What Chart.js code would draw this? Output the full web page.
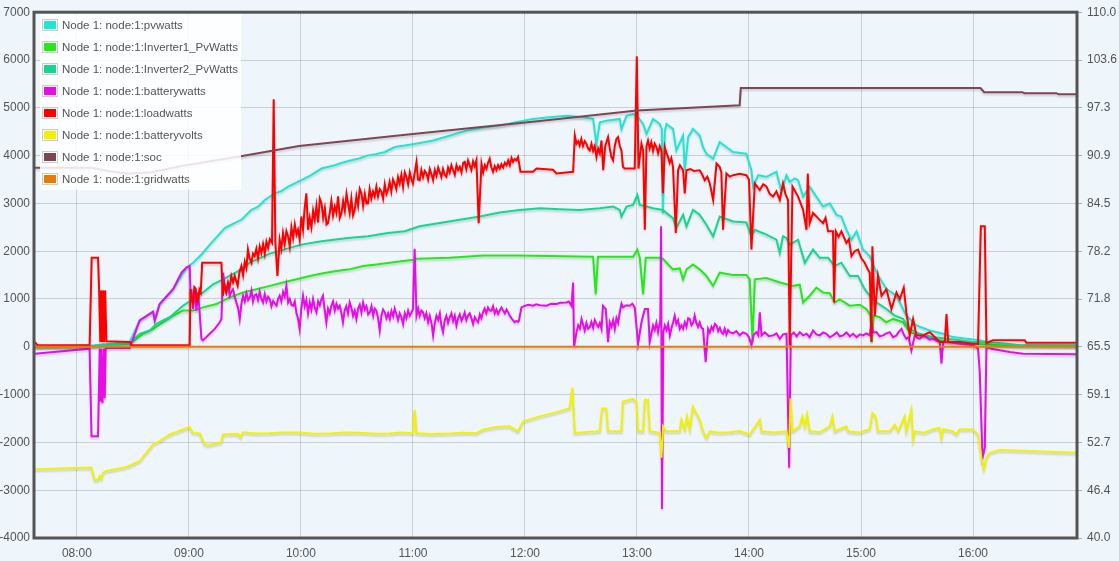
<!DOCTYPE html>
<html>
<head>
<meta charset="utf-8">
<script src="https://cdn.jsdelivr.net/npm/chart.js@4.4.1/dist/chart.umd.min.js"></script>
<style>
html,body{margin:0;padding:0;background:#eef6fc;}
#wrap{position:relative;width:1119px;height:561px;overflow:hidden;}
#legend{position:absolute;left:40px;top:14px;width:201px;height:176px;background:rgba(255,255,255,0.85);font:11.5px "Liberation Sans",Arial,sans-serif;color:#545454;}
.row{position:absolute;left:2px;height:22px;white-space:nowrap;}
.box{position:absolute;left:0;top:0;width:12px;height:8px;border:1px solid #ccc;padding:1px;background:#fff;}
.box div{width:12px;height:8px;}
.txt{position:absolute;left:20px;top:-1px;line-height:14px;}
</style>
</head>
<body>
<div id="wrap">
<canvas id="c" width="1119" height="561"></canvas>
<div id="legend"></div>
</div>
<script>
// Time in minutes after midnight, value
const seriesLabels = ['Node 1: node:1:pvwatts','Node 1: node:1:Inverter1_PvWatts','Node 1: node:1:Inverter2_PvWatts','Node 1: node:1:batterywatts','Node 1: node:1:loadwatts','Node 1: node:1:batteryvolts','Node 1: node:1:soc','Node 1: node:1:gridwatts'];
const seriesColors = ['#1ee6d3','#22ea14','#10d88c','#e80ce8','#ff0000','#f2f200','#7e4650','#e87c00'];

const leftTicks = [-4000,-3000,-2000,-1000,0,1000,2000,3000,4000,5000,6000,7000];
const rightTicks = [40.0,46.4,52.7,59.1,65.5,71.8,78.2,84.5,90.9,97.3,103.6,110.0];
const hourTicks = [480,540,600,660,720,780,840,900,960];

const pvwatts = [[457.4,10],[489.5,30],[508.3,100],[513.6,550],[520.8,736],[521.7,556],[524.3,894],[531.5,1205],[538.6,1655],[542.2,1759],[546.7,1931],[552.0,2174],[559.2,2485],[563.0,2560],[568.1,2657],[573.5,2864],[577.0,2930],[580.6,3072],[586.0,3211],[589.5,3260],[593.1,3350],[600.2,3486],[605.0,3580],[611.0,3729],[618.1,3797],[622.0,3850],[627.0,3901],[631.0,3940],[635.9,4005],[640.0,4030],[644.9,4075],[650.2,4179],[655.6,4212],[663.0,4260],[670.8,4316],[680.0,4420],[688.6,4523],[697.0,4580],[706.5,4627],[715.0,4700],[724.3,4766],[733.0,4800],[742.2,4834],[750.0,4810],[756.5,4766],[758.3,4248],[760.1,4698],[763.6,4731],[770.8,4766],[771.7,4559],[774.4,4834],[777.9,4870],[780.6,4801],[783.3,4662],[785.1,4455],[788.6,4766],[792.2,4662],[793.3,4559],[793.9,2796],[794.9,4500],[795.8,4662],[799.3,4559],[801.1,4109],[804.7,4420],[805.6,3694],[807.4,4386],[810.0,4559],[813.6,4420],[815.4,4179],[817.2,4040],[820.8,3936],[824.3,4283],[827.9,4179],[831.5,4075],[838.6,4040],[841.3,3694],[842.2,3350],[844.9,3590],[849.4,3557],[854.7,3661],[857.4,3246],[860.1,3590],[861.8,3453],[864.5,3522],[866.3,3486],[869.0,3142],[872.5,3350],[876.1,3142],[879.7,2935],[883.3,3003],[886.9,2760],[889.5,2727],[892.2,2449],[894.9,2243],[897.6,2416],[901.1,2035],[904.7,1898],[908.3,1551],[913.7,1205],[919.0,1068],[924.3,653],[929.7,446],[936.8,342],[944.0,272],[949.3,203],[956.5,170],[963.6,135],[967.4,100],[970.0,40],[1015.7,30]];

const inverter1 = [[457.4,0],[486.8,10],[508.3,64],[515.4,272],[520.8,375],[526.1,514],[531.5,653],[536.8,757],[542.2,757],[547.5,825],[554.7,894],[561.8,1033],[569.0,1137],[576.1,1205],[583.3,1275],[590.4,1344],[597.6,1412],[604.7,1483],[611.8,1537],[619.0,1587],[626.1,1620],[633.3,1690],[640.4,1724],[647.6,1759],[654.7,1794],[660.4,1820],[661.9,1842],[679.7,1862],[697.5,1910],[715.4,1910],[733.3,1900],[756.5,1883],[757.9,1101],[759.1,1883],[777.9,1883],[780.2,2035],[781.5,1862],[783.3,1101],[784.7,1862],[792.2,1862],[794.0,1840],[795.8,1759],[799.3,1620],[802.9,1640],[804.7,1412],[806.5,1620],[810.0,1724],[813.6,1620],[817.2,1483],[820.8,1275],[824.3,1551],[831.5,1500],[838.6,1500],[840.4,1412],[841.9,100],[843.1,1412],[849.4,1440],[856.5,1344],[860.1,1310],[863.6,1275],[867.2,1300],[869.0,929],[872.5,1068],[876.1,1240],[879.7,1137],[883.3,1120],[885.9,929],[888.6,990],[894.0,860],[899.3,880],[902.9,790],[905.1,653],[905.8,100],[906.8,653],[910.0,618],[913.6,514],[917.2,583],[922.5,514],[926.1,307],[931.5,239],[936.8,203],[942.2,135],[949.3,100],[960.0,64],[975.0,30],[1015.7,20]];

const inverter2 = [[457.4,0],[486.8,10],[508.3,79],[513.6,272],[519.0,342],[522.6,479],[526.1,550],[529.7,618],[536.8,860],[542.2,998],[547.5,1137],[552.9,1309],[558.3,1412],[565.4,1560],[572.6,1760],[583.3,1950],[594.0,2070],[600.2,2138],[611.0,2209],[625.2,2277],[635.9,2313],[646.6,2381],[655.6,2416],[663.6,2520],[674.3,2588],[685.1,2657],[695.8,2727],[706.5,2810],[717.2,2864],[727.9,2899],[738.6,2880],[749.3,2864],[760.1,2899],[767.2,2935],[770.8,2864],[771.7,2727],[774.4,2935],[777.9,2968],[780.2,3176],[781.5,2968],[785.1,2935],[788.6,2899],[794.0,2864],[795.8,2796],[799.3,2692],[801.1,2485],[804.7,2762],[806.5,2520],[810.0,2864],[813.6,2762],[817.2,2554],[820.8,2313],[824.3,2727],[831.5,2623],[838.6,2600],[841.3,2313],[843.1,2449],[849.4,2346],[854.7,2243],[856.5,1966],[858.2,2313],[860.1,2277],[861.8,2140],[866.3,2242],[869.9,1759],[874.3,2035],[877.9,1862],[882.4,1862],[885.9,1690],[889.5,1759],[894.0,1483],[898.4,1483],[902.0,1205],[904.7,1068],[908.3,929],[913.6,790],[918.1,653],[922.5,583],[926.1,375],[931.5,272],[938.6,203],[945.8,168],[952.9,135],[960.0,100],[967.2,100],[977.9,64],[985.0,30],[1015.7,20]];

const batterywatts = [[457.4,-143],[486.8,-39],[487.8,-1871],[491.3,-1871],[492.2,-39],[492.6,-1145],[493.0,-39],[493.7,-1180],[494.3,-39],[494.9,-1076],[495.4,-25],[508.3,-25],[513.6,550],[520.8,736],[521.7,556],[524.3,894],[531.5,1205],[536.0,1551],[538.6,1655],[540.4,1690],[540.9,1068],[541.3,1205],[542.2,790],[543.1,1205],[544.0,757],[544.9,1137],[545.8,687],[546.7,168],[547.5,135],[551.1,272],[553.8,375],[556.5,514],[557.4,583],[558.3,1551],[559.2,1250],[560.1,1137],[561.0,1300],[561.8,1068],[562.7,1150],[563.6,1205],[564.5,1050],[565.4,929],[566.3,820],[567.2,583],[568.1,900],[569.0,1068],[569.9,950],[570.8,1120],[571.7,980],[572.6,1033],[573.5,1180],[574.3,950],[575.2,1080],[576.1,1101],[577.0,980],[577.9,1150],[578.8,1000],[579.7,929],[580.6,1100],[581.5,950],[582.4,1050],[583.3,998],[584.2,850],[585.1,960],[586.0,900],[586.9,860],[587.7,1000],[588.6,1068],[589.5,950],[590.4,1150],[591.3,1050],[592.2,1275],[593.1,929],[594.0,1000],[594.9,880],[595.8,860],[596.7,950],[597.6,700],[598.4,600],[599.3,375],[600.2,800],[601.1,1068],[602.0,850],[602.9,980],[603.8,700],[604.7,929],[605.6,780],[606.5,1000],[607.4,820],[608.3,722],[609.2,950],[610.1,870],[611.0,1000],[611.8,1068],[612.7,780],[613.6,514],[614.5,800],[615.4,700],[616.3,860],[617.2,950],[618.1,760],[619.0,900],[619.9,800],[620.8,860],[621.7,700],[622.5,514],[623.4,760],[624.3,850],[625.2,700],[626.1,929],[627.0,820],[627.9,650],[628.8,760],[629.7,583],[630.6,800],[631.5,880],[632.4,720],[633.3,929],[634.2,780],[635.1,850],[636.0,680],[636.9,722],[637.8,850],[638.7,650],[639.5,800],[640.4,757],[641.3,600],[642.2,342],[643.1,650],[644.0,780],[644.9,722],[645.8,600],[646.7,700],[647.6,583],[648.5,750],[649.4,640],[650.2,800],[651.1,687],[652.0,560],[652.9,700],[653.8,620],[654.7,479],[655.6,700],[656.5,600],[657.4,760],[658.3,653],[659.2,720],[660.0,790],[660.9,2050],[661.9,653],[662.8,800],[663.6,650],[664.5,760],[665.4,722],[666.3,600],[667.2,700],[668.1,514],[669.0,650],[670.0,480],[670.8,239],[671.7,500],[672.6,653],[673.5,560],[674.4,700],[675.2,450],[676.1,307],[677.0,550],[677.9,650],[678.8,500],[679.7,618],[680.6,700],[681.5,540],[682.4,650],[683.3,446],[684.2,600],[685.1,680],[686.0,550],[686.8,618],[687.7,720],[688.6,560],[689.5,653],[690.4,700],[691.3,600],[692.2,479],[693.1,620],[694.0,560],[694.9,514],[695.8,680],[696.7,600],[697.5,722],[698.4,800],[699.3,700],[700.2,820],[701.1,760],[702.0,757],[702.9,850],[703.8,700],[704.7,780],[705.6,687],[706.5,760],[707.4,820],[708.3,757],[709.2,700],[710.1,780],[711.0,720],[711.8,653],[712.7,600],[713.6,560],[714.5,514],[715.4,540],[716.3,520],[716.8,550],[718.1,825],[720.0,860],[722.0,880],[724.3,860],[726.0,890],[728.0,870],[731.5,860],[734.0,900],[736.9,894],[739.0,920],[742.2,929],[743.5,950],[744.9,860],[745.8,1344],[746.3,0],[747.6,307],[748.5,450],[749.4,380],[750.3,583],[751.2,450],[752.0,342],[752.9,500],[753.8,380],[754.7,410],[755.6,520],[756.5,400],[757.4,560],[758.3,479],[759.2,420],[760.1,500],[761.0,375],[761.8,860],[763.3,790],[764.5,100],[765.4,514],[766.3,420],[767.2,560],[768.1,375],[769.0,600],[769.9,500],[770.8,722],[771.7,900],[772.5,825],[774.3,870],[776.1,860],[777.5,900],[778.8,825],[780.6,64],[782.4,514],[784.2,790],[785.9,790],[786.8,100],[788.6,446],[789.5,350],[790.4,500],[791.3,307],[792.5,556],[792.9,2520],[793.4,-3391],[794.1,307],[794.9,446],[795.8,350],[796.7,480],[797.6,239],[798.5,400],[799.4,520],[800.2,653],[801.1,480],[802.0,560],[802.9,375],[803.8,450],[804.7,380],[805.6,514],[806.5,420],[807.4,600],[808.3,583],[809.2,450],[810.1,500],[810.9,653],[811.8,500],[812.7,420],[813.6,514],[814.5,400],[815.4,375],[816.8,-315],[818.1,375],[819.0,300],[819.9,420],[820.8,350],[821.7,480],[822.6,446],[823.5,330],[824.4,400],[825.3,300],[826.1,272],[827.0,380],[827.9,260],[828.8,350],[829.7,307],[831.5,280],[833.2,330],[835.0,239],[836.8,300],[838.6,272],[840.0,200],[841.3,31],[842.5,250],[844.0,307],[845.0,240],[845.8,722],[846.7,239],[848.5,300],[850.7,220],[852.9,239],[854.7,280],[856.5,168],[858.3,260],[860.1,272],[861.5,-2528],[862.4,239],[864.0,300],[865.5,220],[867.2,307],[869.0,240],[870.8,272],[872.5,200],[874.3,342],[876.1,260],[877.9,239],[879.7,300],[881.5,272],[883.3,200],[885.0,239],[887.0,300],[888.7,220],[890.4,239],[892.2,300],[894.0,220],[895.8,272],[897.6,200],[899.4,260],[901.1,239],[902.9,280],[904.7,239],[905.6,514],[906.5,300],[908.3,307],[910.0,220],[911.8,239],[913.6,280],[915.4,307],[917.2,200],[919.0,239],[920.0,300],[921.7,375],[923.0,250],[924.3,168],[925.5,200],[927.0,-73],[928.8,239],[930.2,180],[931.5,168],[933.3,230],[935.1,203],[936.8,150],[938.6,168],[940.4,130],[942.2,100],[943.1,-350],[944.0,100],[948.0,90],[952.9,64],[956.5,50],[960.0,31],[962.7,-39],[963.6,-523],[965.1,-2321],[966.3,-2113],[967.2,0],[969.9,-39],[974.3,-73],[979.7,-108],[986.8,-143],[1015.7,-156]];

const loadwatts = [[457.4,100],[459.0,31],[486.8,31],[487.9,1862],[491.3,1862],[491.9,1172],[492.5,100],[492.9,1180],[493.5,100],[494.0,1180],[494.6,100],[495.1,1180],[495.8,114],[508.3,100],[509.3,31],[540.4,31],[540.8,1205],[541.5,1000],[542.2,929],[542.9,1250],[543.6,1220],[544.2,950],[544.9,970],[545.6,1200],[546.3,1137],[547.1,1759],[557.4,1759],[558.1,1068],[559.0,1300],[559.9,1150],[560.9,1344],[561.8,1250],[562.7,1480],[563.6,1350],[564.5,1483],[565.3,1380],[566.1,1280],[567.0,1550],[568.1,1690],[569.0,1500],[569.9,1780],[570.8,1650],[571.6,2035],[572.5,1850],[573.5,1759],[574.3,1950],[575.2,1898],[576.1,2050],[577.0,1850],[577.9,2100],[578.8,1966],[579.7,2150],[580.6,1950],[581.5,2200],[582.4,2070],[583.3,2250],[584.5,2174],[585.4,5181],[586.3,2174],[587.4,1483],[588.6,2242],[589.5,2050],[590.4,2380],[591.3,2150],[592.2,2420],[593.1,2313],[594.0,2100],[594.9,2500],[595.8,2280],[596.7,2560],[597.6,2350],[598.4,2449],[599.3,2250],[600.2,2727],[601.1,2450],[602.0,2900],[602.9,3211],[603.8,2449],[604.7,2700],[605.6,2500],[606.5,2850],[607.4,2657],[608.3,2950],[609.2,2600],[610.1,3100],[611.0,3003],[611.9,2700],[612.8,2900],[613.7,2560],[614.5,2588],[615.4,2800],[616.3,3050],[617.2,2750],[618.1,2935],[619.0,2800],[619.9,3150],[620.8,2700],[621.7,2796],[622.6,3050],[623.5,2850],[624.4,3200],[625.2,3003],[626.1,2800],[627.0,3100],[627.9,2750],[628.8,2864],[629.7,3150],[630.6,2950],[631.5,3300],[632.4,3211],[633.3,2950],[634.2,3200],[635.1,3000],[635.9,3003],[636.8,3300],[637.7,3100],[638.6,3250],[639.5,3142],[640.4,3350],[641.3,3150],[642.2,3300],[643.1,3246],[644.0,3100],[644.9,3400],[645.8,3200],[646.6,3279],[647.5,3450],[648.4,3250],[649.3,3500],[650.2,3418],[651.1,3300],[652.0,3550],[652.9,3418],[653.8,3600],[654.7,3350],[655.6,3650],[656.5,3557],[657.4,3400],[658.3,3650],[659.2,3500],[660.0,3418],[661.9,3868],[662.7,3500],[663.6,3486],[664.5,3700],[665.4,3550],[666.3,3680],[667.2,3625],[668.1,3500],[669.0,3720],[670.0,3600],[670.8,3486],[671.7,3700],[672.6,3580],[673.5,3750],[674.3,3661],[675.2,3550],[676.1,3720],[677.0,3600],[677.9,3557],[678.8,3750],[679.7,3650],[680.6,3800],[681.5,3694],[682.4,3600],[683.3,3800],[684.2,3700],[685.1,3764],[686.0,3650],[686.9,3850],[687.7,3868],[688.6,3720],[689.5,3900],[690.4,3797],[691.3,3700],[692.2,3880],[693.1,3780],[694.0,3901],[695.2,2588],[696.7,3833],[697.6,3650],[698.5,3800],[699.4,3729],[700.2,3850],[701.1,3936],[702.0,3750],[702.9,3661],[703.8,3780],[704.7,3700],[705.6,3800],[706.5,3729],[707.4,3820],[708.3,3750],[709.2,3850],[710.1,3797],[711.0,3900],[711.9,3800],[712.8,3950],[713.6,3868],[714.5,3930],[715.4,3900],[716.3,3972],[717.6,3661],[724.3,3661],[726.2,3729],[735.0,3705],[736.9,3625],[745.8,3661],[746.7,4420],[747.6,4250],[748.5,4300],[749.3,4212],[750.2,4350],[751.1,4200],[752.0,4300],[752.9,4248],[753.8,4150],[754.7,4109],[755.6,4250],[756.5,4100],[757.4,4200],[758.3,3972],[759.2,4150],[760.1,4050],[761.0,4316],[761.9,3694],[763.0,4200],[764.5,4386],[765.4,4150],[766.3,3972],[767.2,3901],[768.1,4200],[769.0,4351],[769.9,4386],[770.8,4200],[771.7,4109],[772.5,3764],[773.4,3729],[778.8,3729],[779.9,6079],[780.8,3729],[781.6,4000],[782.4,4248],[783.3,4100],[784.2,2449],[785.1,4200],[785.9,4316],[786.8,4150],[787.7,4280],[788.6,4100],[789.5,4250],[790.4,4179],[791.3,4050],[792.2,4200],[793.1,4109],[793.9,3211],[794.9,4179],[795.8,4050],[796.6,3972],[797.5,3850],[798.4,3950],[799.3,3764],[800.8,2381],[802.0,3694],[803.0,3800],[804.7,3694],[805.6,3211],[806.5,3694],[808.5,3720],[810.5,3680],[813.6,3694],[815.0,3600],[816.3,3486],[817.7,3560],[819.0,3418],[820.8,3072],[822.6,3833],[824.3,3764],[825.2,3650],[826.1,2449],[827.9,3625],[829.7,3560],[831.5,3590],[835.0,3620],[838.6,3590],[840.0,3500],[841.3,2035],[843.1,3418],[844.4,3350],[845.8,3279],[847.6,3400],[849.4,3350],[851.1,3200],[852.9,3142],[854.7,3250],[856.5,3072],[858.2,3418],[859.5,3200],[860.9,3072],[861.8,31],[863.3,3350],[864.8,3250],[866.3,3142],[867.7,3000],[869.0,2864],[870.8,2449],[871.5,3625],[872.5,2588],[874.3,2800],[876.1,2727],[877.9,2650],[879.7,2588],[881.0,2700],[882.4,2416],[885.0,2416],[885.6,929],[886.5,2416],[888.0,2300],[889.5,2416],[892.2,2174],[893.5,2250],[894.9,1898],[896.6,2000],[898.4,2035],[900.2,1850],[902.0,1759],[903.3,1650],[904.7,1551],[905.6,100],[906.1,2105],[907.4,653],[909.1,1483],[911.0,1068],[913.6,1205],[916.3,790],[919.0,1137],[920.8,998],[922.9,1240],[924.3,722],[926.1,239],[927.9,583],[929.7,239],[933.2,239],[936.8,307],[942.2,100],[944.9,100],[945.8,687],[946.7,100],[952.9,100],[960.0,64],[962.7,64],[964.2,2520],[966.3,2520],[967.2,79],[970.7,135],[987.7,135],[988.6,85],[1015.7,85]];

const batteryvolts = [[457.4,49.16],[487.8,49.37],[489.5,47.71],[491.1,47.71],[492.2,48.27],[493.1,47.88],[494.0,48.67],[495.8,48.93],[506.5,49.46],[510.0,49.82],[513.6,50.25],[520.8,52.46],[524.3,52.89],[529.7,53.78],[540.4,54.78],[542.2,53.99],[545.8,53.91],[548.5,52.46],[551.1,52.37],[557.4,52.76],[558.3,53.78],[566.3,53.86],[567.6,53.42],[569.0,54.08],[576.0,53.90],[583.3,53.95],[590.0,54.05],[599.3,54.04],[607.0,53.88],[615.4,53.91],[623.0,54.06],[631.5,54.01],[640.0,53.87],[647.6,53.91],[654.0,54.03],[660.0,53.95],[660.9,57.05],[661.9,53.95],[670.0,53.86],[679.7,53.91],[687.0,54.02],[694.0,53.95],[697.5,54.44],[704.7,54.78],[711.8,54.87],[716.3,54.21],[719.0,55.53],[727.9,56.19],[736.9,56.76],[744.0,57.29],[745.4,60.02],[746.7,53.99],[753.0,54.10],[760.1,54.21],[761.3,57.25],[763.6,57.25],[764.5,54.21],[771.7,54.21],[772.5,58.17],[777.9,58.53],[779.7,58.17],[780.6,54.21],[783.3,54.21],[784.2,58.40],[785.9,58.40],[786.8,54.21],[792.2,53.99],[793.1,50.69],[794.0,54.87],[795.8,54.21],[802.9,54.21],[803.8,55.76],[805.6,54.48],[806.8,56.19],[808.3,54.48],[810.0,57.49],[813.6,55.76],[815.4,54.21],[817.2,53.33],[819.0,54.21],[824.0,54.02],[829.7,54.08],[835.0,54.25],[840.4,53.78],[845.8,55.76],[846.7,54.21],[853.0,54.05],[860.1,54.21],[861.5,52.01],[862.2,58.61],[863.3,54.21],[867.2,54.87],[868.6,56.19],[869.9,54.87],[871.1,56.42],[872.5,54.21],[878.0,54.10],[883.3,54.87],[884.7,56.19],[885.9,54.21],[892.2,54.87],[893.1,54.21],[899.0,54.05],[904.7,54.48],[906.1,56.63],[907.9,56.19],[909.1,54.21],[915.4,54.21],[918.1,55.10],[919.9,54.21],[923.4,56.19],[924.3,54.21],[927.0,57.08],[927.9,53.12],[928.8,54.21],[934.0,54.02],[938.6,54.48],[942.2,54.65],[943.1,53.33],[944.0,54.48],[949.3,54.21],[951.1,53.78],[952.9,54.48],[960.0,54.44],[962.7,53.78],[964.5,50.69],[965.8,49.16],[967.2,50.69],[969.0,51.35],[974.3,51.71],[1015.7,51.35]];

const soc = [[457.4,89.3],[488.0,89.3],[496.0,88.9],[507.0,88.5],[520.0,88.7],[535.0,89.5],[567.0,90.8],[599.0,92.2],[656.0,93.7],[728.0,95.5],[780.0,96.9],[835.0,97.6],[835.6,99.9],[964.0,99.9],[966.0,99.35],[986.4,99.35],[987.5,99.22],[1004.7,99.22],[1005.8,99.09],[1015.7,99.09]];

const gridwatts = [[457.4,0],[1015.7,0]];

const seriesData = [pvwatts, inverter1, inverter2, batterywatts, loadwatts, batteryvolts, soc, gridwatts];
const seriesAxis = ['y','y','y','y','y','y1','y1','y'];

// HTML legend
const lg = document.getElementById('legend');
seriesLabels.forEach((lab, i) => {
  const row = document.createElement('div');
  row.className = 'row';
  row.style.top = (5 + 22 * i) + 'px';
  row.innerHTML = '<div class="box"><div style="background:' + seriesColors[i] + '"></div></div><span class="txt"></span>';
  row.querySelector('.txt').textContent = lab;
  lg.appendChild(row);
});

const fmtTime = v => {
  const h = Math.floor(v / 60), m = Math.round(v - h * 60);
  return String(h).padStart(2, '0') + ':' + String(m).padStart(2, '0');
};

const shadowPlugin = {
  id: 'shadow',
  beforeDatasetDraw(chart) {
    const ctx = chart.ctx;
    ctx.save();
    ctx.shadowColor = 'rgba(0,0,0,0.16)';
    ctx.shadowBlur = 2;
    ctx.shadowOffsetX = 0;
    ctx.shadowOffsetY = 2;
  },
  afterDatasetDraw(chart) { chart.ctx.restore(); }
};

const framePlugin = {
  id: 'frame',
  afterDraw(chart) {
    const {ctx, chartArea: a} = chart;
    ctx.save();
    ctx.strokeStyle = '#545454';
    ctx.lineWidth = 3;
    ctx.strokeRect(a.left, a.top, a.right - a.left, a.bottom - a.top);
    ctx.restore();
  }
};

const font = {family: '"Liberation Sans", Arial, sans-serif', size: 12};

new Chart(document.getElementById('c'), {
  type: 'line',
  data: {
    datasets: seriesData.map((d, i) => ({
      label: seriesLabels[i],
      data: d.map(p => ({x: p[0], y: p[1]})),
      borderColor: seriesColors[i],
      backgroundColor: seriesColors[i],
      borderWidth: 2,
      pointRadius: 0,
      tension: 0,
      fill: false,
      yAxisID: seriesAxis[i],
      order: 8 - i
    }))
  },
  options: {
    responsive: false,
    animation: false,
    events: [],
    layout: {padding: {top: 7, left: 0, right: 0, bottom: 0}},
    plugins: {legend: {display: false}, tooltip: {enabled: false}},
    scales: {
      x: {
        type: 'linear', min: 457, max: 1015.7,
        afterBuildTicks: s => { s.ticks = hourTicks.map(v => ({value: v})); },
        afterFit: s => { s.height = 23; },
        ticks: {callback: v => fmtTime(v), color: '#545454', font, padding: 8, maxRotation: 0, autoSkip: false},
        grid: {color: 'rgba(0,0,0,0.15)', drawTicks: false, lineWidth: 1},
        border: {display: false}
      },
      y: {
        type: 'linear', position: 'left', min: -4000, max: 7000,
        afterBuildTicks: s => { s.ticks = leftTicks.map(v => ({value: v})); },
        afterFit: s => { s.width = 34; },
        ticks: {color: '#545454', font, padding: 4, callback: v => String(v)},
        grid: {color: 'rgba(0,0,0,0.15)', drawTicks: false, lineWidth: 1},
        border: {display: false}
      },
      y1: {
        type: 'linear', position: 'right', min: 40, max: 110,
        afterBuildTicks: s => { s.ticks = rightTicks.map((v, i) => ({value: 40 + i * 70 / 11})); },
        afterFit: s => { s.width = 42; },
        ticks: {color: '#545454', font, padding: 5, callback: (v, i) => rightTicks[i].toFixed(1)},
        grid: {drawOnChartArea: false, drawTicks: true, tickLength: 5, tickColor: 'rgba(0,0,0,0.3)'},
        border: {display: false}
      }
    }
  },
  plugins: [shadowPlugin, framePlugin]
});
</script>
</body>
</html>
